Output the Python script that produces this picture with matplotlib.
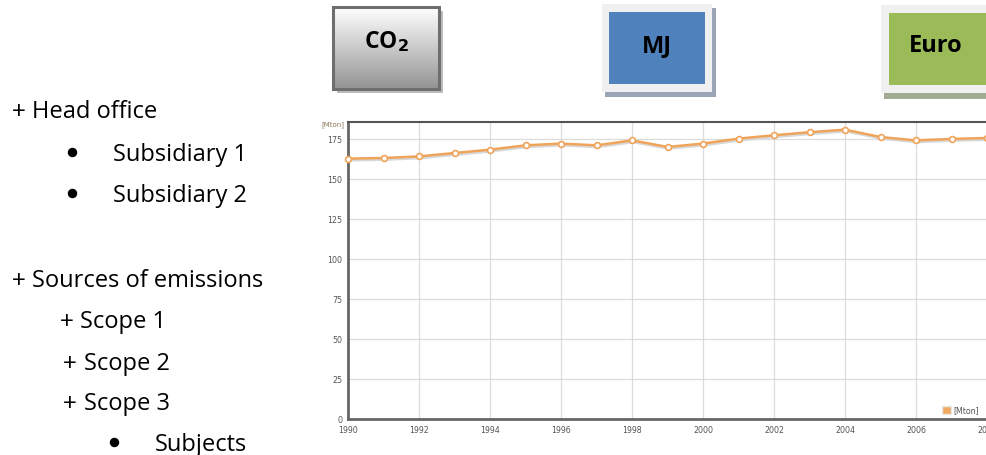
import numpy as np
import matplotlib
matplotlib.use("Agg")
import matplotlib.pyplot as plt
from matplotlib.patches import Rectangle, Patch

years = list(range(1990, 2009))
mton = [162.7, 163.1, 164.1, 166.2, 168.3, 171.0, 172.1, 171.0, 174.1, 170.0,
        172.1, 175.2, 177.3, 179.2, 180.8, 176.2, 174.1, 175.0, 175.6]
x_ticks = [1990, 1992, 1994, 1996, 1998, 2000, 2002, 2004, 2006, 2008]
y_ticks = [0, 25, 50, 75, 100, 125, 150, 175]
series_label = "[Mton]"
unit_label = "[Mton]"

# marker, text, x (px), baseline y (px)
outline_items = [
    ("+", "Head office", 12, 117.7),
    ("bullet", "Subsidiary 1", 113, 161),
    ("bullet", "Subsidiary 2", 113, 201.7),
    ("+", "Sources of emissions", 12, 286.7),
    ("+", "Scope 1", 60, 328.3),
    ("+", "Scope 2", 63, 370),
    ("+", "Scope 3", 63, 410),
    ("bullet", "Subjects", 155, 450.7),
]
box_labels = ["CO$_\\mathbf{2}$", "MJ", "Euro"]

W, H = 986, 456
fig = plt.figure(figsize=(W / 100, H / 100), dpi=100)
fig.patch.set_facecolor("white")

ov = fig.add_axes([0, 0, 1, 1])
ov.axis("off")
ov.patch.set_visible(False)

def fx(px):
    return px / W

def fy(py):
    return 1 - py / H

# ---- main chart ----
left, right_px, top, bottom = 348, 348 + 20 * 35.5, 123.3, 420
ax = fig.add_axes([fx(left), fy(bottom), (right_px - left) / W, (bottom - top) / H])
ax.set_xlim(1990, 2010)
ax.set_ylim(0, 185.4)
ax.set_xticks(x_ticks)
ax.set_yticks(y_ticks)
ax.set_xticklabels([str(t) for t in x_ticks])
ax.tick_params(length=0, labelsize=5.7, labelcolor="#555555", pad=4)
ax.grid(True, color="#dcdcdc", linewidth=0.9)
ax.set_axisbelow(True)
for s in ["left", "bottom"]:
    ax.spines[s].set_color("#666666")
    ax.spines[s].set_linewidth(2.0)
ax.spines["top"].set_color("#555555")
ax.spines["top"].set_linewidth(1.5)
ax.spines["right"].set_visible(False)

ax.plot(np.array(years) + 0.03, np.array(mton) - 0.9, color="#d8d8d8", linewidth=2.2,
        zorder=2, clip_on=False)
ax.plot(years, mton, color="#f0a45a", linewidth=1.8, marker="o", markersize=4.2,
        markerfacecolor="white", markeredgecolor="#f0a45a", markeredgewidth=1.2,
        zorder=3, clip_on=False)

fig.legend(handles=[Patch(facecolor="#f0aa60", edgecolor="#e8e8e8", label=series_label)],
           loc="center left", bbox_to_anchor=(fx(942), fy(411)), frameon=False,
           fontsize=5.7, handlelength=1.1, handleheight=1.1, handletextpad=0.4,
           labelcolor="#555555", borderpad=0, borderaxespad=0)

# ---- boxes ----
def rect(x0, y0, x1, y1, **kw):
    ov.add_patch(Rectangle((x0, y0), x1 - x0, y1 - y0, clip_on=False, **kw))

grad = np.linspace(1, 0, 100).reshape(-1, 1, 1)
top_c = np.array([1.0, 1.0, 1.0])
bot_c = np.array([0.58, 0.58, 0.58])
img = grad * top_c + (1 - grad) * bot_c
img = np.repeat(img, 2, axis=1)

rect(337, 12, 443, 94, facecolor="#bdbdbd", edgecolor="none", zorder=1)
ov.imshow(img, aspect="auto", extent=[333, 439, 90, 8], origin="upper", zorder=2)
rect(333, 8, 439, 90, facecolor="none", edgecolor="#6e6e6e", linewidth=2.2, zorder=3)

rect(605, 9, 716, 98, facecolor="#9aa5b8", edgecolor="none", zorder=1)
rect(602, 5, 712, 93, facecolor="#f0f0f0", edgecolor="none", zorder=2)
rect(609, 13, 705, 85, facecolor="#4f81bd", edgecolor="none", zorder=3)

rect(884, 10, 990, 100, facecolor="#a3ab93", edgecolor="none", zorder=1)
rect(881, 6, 990, 94, facecolor="#f0f0f0", edgecolor="none", zorder=2)
rect(889, 14, 990, 86, facecolor="#9bbb59", edgecolor="none", zorder=3)

ov.set_xlim(0, W)
ov.set_ylim(H, 0)

ov.text(386, 48.3, box_labels[0], fontsize=16.5, fontweight="bold", family="Open Sans",
        ha="center", va="baseline", zorder=6)
ov.text(657, 51.7, box_labels[1], fontsize=17, fontweight="bold", family="Open Sans",
        ha="center", va="baseline", zorder=6)
ov.text(936, 51.7, box_labels[2], fontsize=17, fontweight="bold", family="Open Sans",
        ha="center", va="baseline", zorder=6)

ov.text(333, 125, unit_label, fontsize=5, color="#8a7a5a", ha="center", va="center")

# ---- outline text ----
for mark, txt, x, y in outline_items:
    if mark == "bullet":
        ov.plot([x - 41.5], [y - 7.7], "o", color="black", markersize=5.8)
        ov.text(x, y, txt, fontsize=17, family="Open Sans", color="black",
                ha="left", va="baseline")
    else:
        ov.text(x, y, "+", fontsize=17, family="Liberation Sans", color="black",
                ha="left", va="baseline")
        ov.text(x + 20.5, y, txt, fontsize=17, family="Open Sans", color="black",
                ha="left", va="baseline")

ov.set_xlim(0, W)
ov.set_ylim(H, 0)

fig.savefig("out.png", dpi=100, facecolor="white")
